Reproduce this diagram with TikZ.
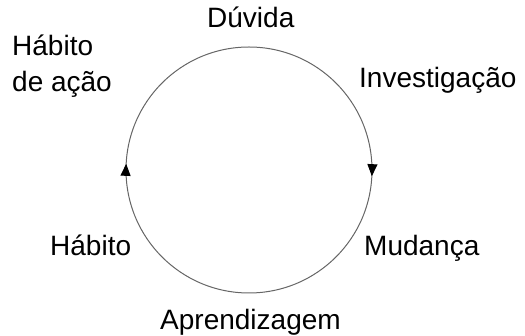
\documentclass[tikz,border=0pt]{standalone}
\usepackage{fontspec}
\setmainfont{Liberation Sans}
\usetikzlibrary{arrows.meta,decorations.markings}

\begin{document}
\begin{tikzpicture}[
  cyclabel/.style = {font=\fontsize{28}{36}\selectfont, inner sep=0pt, align=left},
  cycring/.style  = {draw=black!60, line width=1pt, postaction={decorate},
                     decoration={markings,
                       mark=at position 0.258 with {\arrow[black]{Triangle[length=12pt,width=10pt]}},
                       mark=at position 0.758 with {\arrow[black]{Triangle[length=12pt,width=10pt]}}}},
  x=1pt, y=-1pt,
]

  \useasboundingbox (0,0) rectangle (525,336);

  % ring, drawn from the bottom so the marks fall on the left and right
  \coordinate (ctr) at (249,170);
  \draw[cycring] (249,293) arc[start angle=90, end angle=450, radius=123];

  \node[cyclabel,anchor=base west] (duvida) at (207,28)  {Dúvida};
  \node[cyclabel,anchor=base west] (invest) at (359,88)  {Investigação};
  \node[cyclabel,anchor=base west] (mudanca) at (364,256) {Mudança};
  \node[cyclabel,anchor=base west] (aprend) at (160,330) {Aprendizagem};
  \node[cyclabel,anchor=base west] (habito) at (50,256)  {Hábito};
  \node[cyclabel,anchor=base west] (habacao) at (12,92)  {Hábito\\de ação};
\end{tikzpicture}
\end{document}
